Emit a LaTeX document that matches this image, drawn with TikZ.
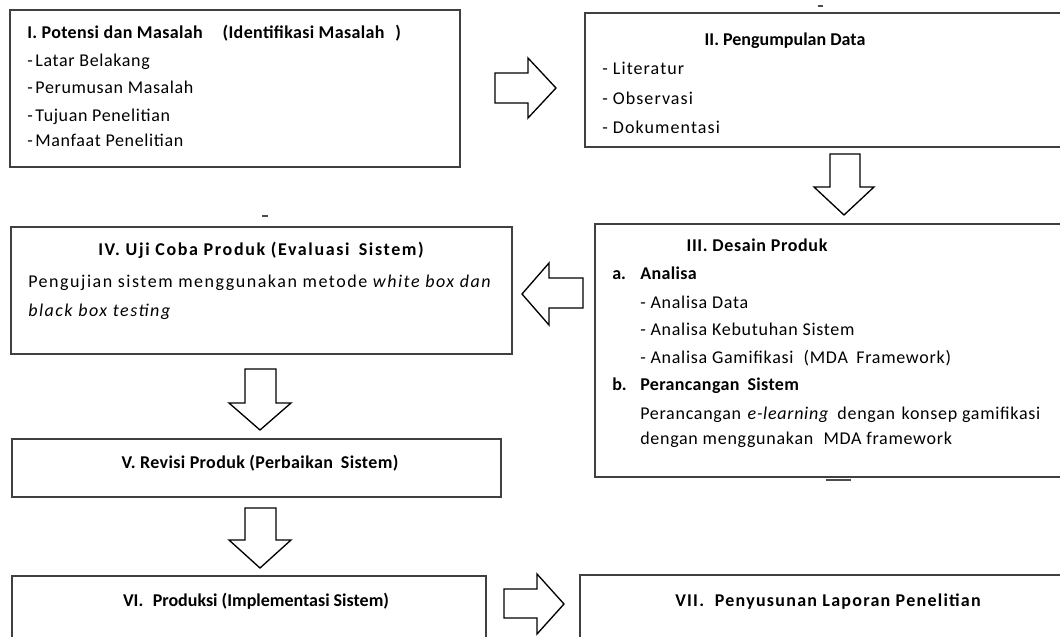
\documentclass[tikz,border=0pt]{standalone}
\usepackage{fontspec}
\setmainfont{Carlito}
\newfontfamily\lsZ{Carlito}
\newfontfamily\lsB[LetterSpace=2]{Carlito}
\newfontfamily\lsC[LetterSpace=3.5]{Carlito}
\newfontfamily\lsD[LetterSpace=4]{Carlito}
\newfontfamily\lsE[LetterSpace=6]{Carlito}
\newfontfamily\lsF[LetterSpace=7]{Carlito}
\newfontfamily\lsG[LetterSpace=8.5]{Carlito}
\newfontfamily\lsH[LetterSpace=9]{Carlito}
\begin{document}
\begin{tikzpicture}[x=0.75pt,y=-0.75pt,
  box/.style={draw=black!75,line width=1pt},
  barrow/.style={draw=black,line width=1pt,fill=white,line join=miter},
  txt/.style={anchor=west,inner sep=0pt,text height=10pt,text depth=2.8pt,yshift=-1.5pt,font=\fontsize{13.5}{16}\selectfont},
  ttl/.style={txt,font=\fontsize{13.5}{16}\selectfont\bfseries},
  ctl/.style={ttl,anchor=center},
  tick/.style={draw=black!70,line width=0.8pt}]
\useasboundingbox (0,0) rectangle (1060,636);
\clip (0,0) rectangle (1060,636);
% boxes
\draw[box] (10,10) rectangle (460,167);
\draw[box] (585,13) rectangle (1070,147);
\draw[box] (595,224) rectangle (1070,477);
\draw[box] (11,227) rectangle (512,354);
\draw[box] (12,439) rectangle (501,497);
\draw[box] (12,576) rectangle (486,645);
\draw[box] (580,575) rectangle (1070,645);
% small marks
\draw[tick] (818,6) -- (823,6);
\draw[tick] (262,216) -- (268,216);
\draw[tick] (826,480) -- (851,480);
% Box I
\node[ttl] (t1) at (27,32) {\lsB I. Potensi dan Masalah\hspace{1.1em}(Identifikasi Masalah\hspace{0.6em})};
\node[txt] (t1a) at (27,60) {\lsC -\hspace{0.15em}Latar Belakang};
\node[txt] (t1b) at (27,87) {\lsC -\hspace{0.15em}Perumusan Masalah};
\node[txt] (t1c) at (27,115) {\lsC -\hspace{0.15em}Tujuan Penelitian};
\node[txt] (t1d) at (27,140) {\lsC -\hspace{0.15em}Manfaat Penelitian};
% Box II
\node[ctl] (t2) at (785,39) {\lsZ II. Pengumpulan Data};
\node[txt] (t2a) at (602,68) {\lsE - Literatur};
\node[txt] (t2b) at (602,98) {\lsE - Observasi};
\node[txt] (t2c) at (602,127) {\lsE - Dokumentasi};
% Box III
\node[ctl] (t3) at (757,245) {\lsC III. Desain Produk};
\node[ttl] (t3a) at (612,273) {\lsZ a.};
\node[ttl] (t3a2) at (640,273) {\lsB Analisa};
\node[txt] (t3b) at (640,302) {\lsD - Analisa Data};
\node[txt] (t3c) at (640,329) {\lsD - Analisa Kebutuhan Sistem};
\node[txt] (t3d) at (640,357) {\lsD - Analisa Gamifikasi\hspace{0.3em} (MDA\hspace{0.2em} Framework)};
\node[ttl] (t3e) at (612,384) {\lsZ b.};
\node[ttl] (t3e2) at (640,384) {\lsB Perancangan\hspace{0.2em} Sistem};
\node[txt] (t3f) at (640,413) {\lsD Perancangan\hspace{0.1em} \textit{e-learning}\hspace{0.2em} dengan\hspace{0.1em} konsep gamifikasi};
\node[txt] (t3g) at (640,438) {\lsD dengan menggunakan\hspace{0.3em} MDA framework};
% Box IV
\node[ctl] (t4) at (261,249) {\lsH IV. Uji Coba Produk (Evaluasi\hspace{0.2em} Sistem)};
\node[txt] (t4a) at (28,281) {\lsG Pengujian sistem menggunakan metode \textit{white box dan}};
\node[txt] (t4b) at (28,310) {\lsG\textit{black box testing}};
% Box V, VI, VII
\node[ctl] (t5) at (260,462) {\lsB V. Revisi Produk (Perbaikan\hspace{0.2em} Sistem)};
\node[ctl] (t6) at (256,600) {\lsZ VI.\hspace{0.3em} Produksi (Implementasi Sistem)};
\node[ctl] (t7) at (828,600) {\lsF VII.\hspace{0.3em} Penyusunan Laporan Penelitian};
% block arrows
\draw[barrow] (495,73) -- (528,73) -- (528,58) -- (556,88) -- (528,118) -- (528,103) -- (495,103) -- cycle;
\draw[barrow] (830,154) -- (860,154) -- (860,187) -- (874,187) -- (844,215) -- (814,187) -- (830,187) -- cycle;
\draw[barrow] (583,278) -- (549,278) -- (549,263) -- (522,294) -- (549,325) -- (549,308) -- (583,308) -- cycle;
\draw[barrow] (245,369) -- (276,369) -- (276,403) -- (291,403) -- (260,430) -- (229,403) -- (245,403) -- cycle;
\draw[barrow] (245,508) -- (276,508) -- (276,540) -- (291,540) -- (260,568) -- (229,540) -- (245,540) -- cycle;
\draw[barrow] (504,589) -- (537,589) -- (537,574) -- (564,604) -- (537,634) -- (537,618) -- (504,618) -- cycle;
\end{tikzpicture}
\end{document}
